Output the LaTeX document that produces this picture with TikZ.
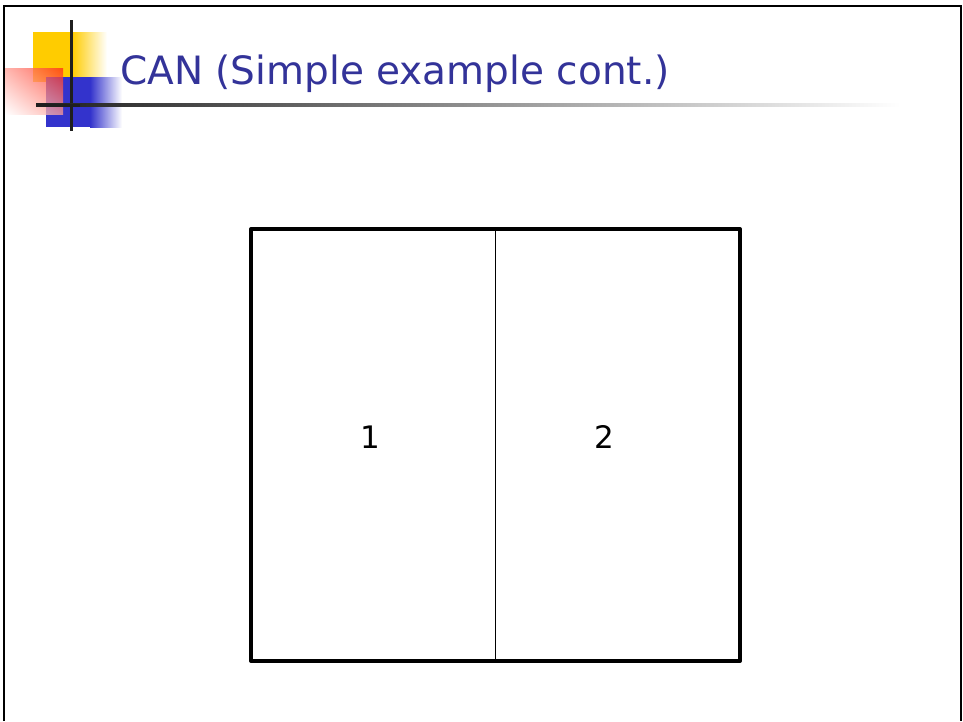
\documentclass[tikz,border=0pt]{standalone}
\usepackage{fontspec}
\setmainfont{DejaVu Sans}
\usetikzlibrary{shadings}
\definecolor{titleblue}{RGB}{51,51,153}
\definecolor{decoyellow}{RGB}{255,204,0}
\definecolor{decoblue}{RGB}{51,51,204}
\definecolor{decored}{RGB}{255,40,20}
\begin{document}
\begin{tikzpicture}[x=1pt,y=-1pt,
  cellbox/.style={draw=black,line width=4pt,line join=round,minimum width=489pt,minimum height=432pt,inner sep=0pt},
  digit/.style={font=\fontsize{31}{36}\selectfont,inner sep=0pt,anchor=base},
  titletext/.style={font=\fontsize{39}{46}\selectfont,text=titleblue,inner sep=0pt,anchor=base west}]
\useasboundingbox[fill=white] (0,0) rectangle (963,721);
% frame
\draw[line width=2.5pt] (4,721) -- (4,6) -- (961,6) -- (961,721);
% decoration
\fill[decoyellow] (33,32) rectangle (72,82);
\shade[left color=decoyellow,right color=white] (72,32) rectangle (107,82);
\fill[decoblue] (46,77) rectangle (90,127);
\shade[left color=decoblue,right color=white] (90,77) rectangle (122,127);
\shade[upper right=decored,upper left=decored!45,lower right=decored!45,lower left=white,opacity=0.75] (5,68) rectangle (63,114);
\fill[black!88] (69.5,20) rectangle (72.5,131);
\shade[left color=black!88,right color=white] (36,103.5) rectangle (900,106.5);
\fill[black!88] (36,103.5) rectangle (80,106.5);
% title
\node[titletext] (title) at (120,84) {CAN (Simple example cont.)};
% box
\node[cellbox] (box) at (495.5,445) {};
\draw[line width=1pt] (box.north) -- (box.south);
\node[digit] (one) at (370,448) {1};
\node[digit] (two) at (604,448) {2};
\end{tikzpicture}
\end{document}
